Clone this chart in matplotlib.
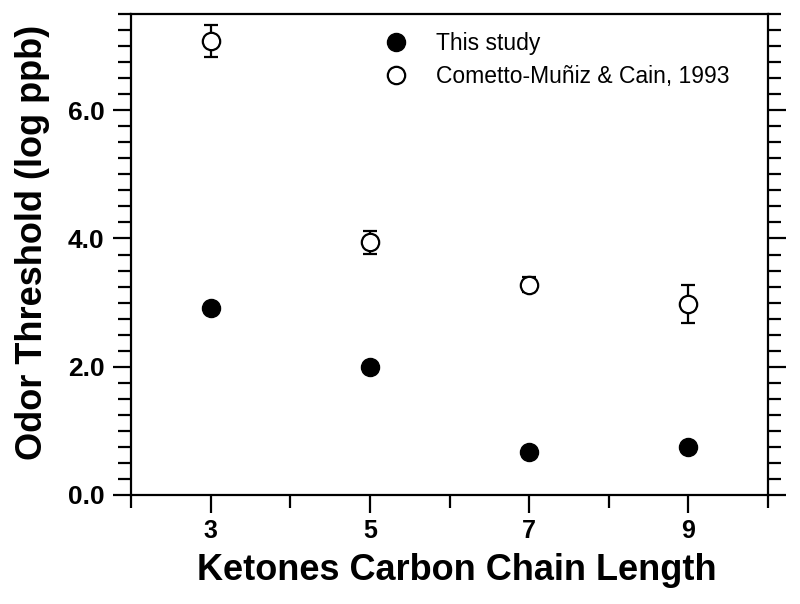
import matplotlib
matplotlib.use("Agg")
import matplotlib.pyplot as plt
from matplotlib.ticker import MultipleLocator, FixedLocator, FormatStrFormatter

plt.rcParams['font.family'] = ['Liberation Sans', 'DejaVu Sans']

chain = [3, 5, 7, 9]
this_study = [2.92, 2.00, 0.67, 0.75]
cometto = [7.08, 3.94, 3.28, 2.98]
cometto_err = [0.25, 0.18, 0.12, 0.30]
xtick_labels = ['3', '5', '7', '9']

W, H = 800, 604
fig = plt.figure(figsize=(W / 100, H / 100), dpi=100)
ax = fig.add_axes([131 / W, 1 - 495 / H, (768 - 131) / W, (495 - 14) / H])

ax.plot(chain, this_study, 'o', color='black', markersize=13, label='This study', zorder=3)
ax.errorbar(chain, cometto, yerr=cometto_err, fmt='none', ecolor='black',
            elinewidth=1.6, capsize=5, capthick=1.6, zorder=2)
ax.plot(chain, cometto, 'o', mfc='white', mec='black', markersize=12.5, mew=1.6,
        label='Cometto-Muñiz & Cain, 1993', zorder=3)

ax.set_xlim(2, 10)
ax.set_ylim(0, 7.5)
ax.xaxis.set_major_locator(FixedLocator(chain))
ax.set_xticklabels(xtick_labels)
ax.xaxis.set_minor_locator(FixedLocator([2, 4, 6, 8, 10]))
ax.yaxis.set_major_locator(MultipleLocator(2.0))
ax.yaxis.set_minor_locator(MultipleLocator(0.25))
ax.yaxis.set_major_formatter(FormatStrFormatter('%.1f'))

ax.tick_params(axis='both', which='major', direction='out', length=13, width=1.6)
ax.tick_params(axis='x', which='major', labelsize=18, pad=4)
ax.tick_params(axis='y', which='major', labelsize=19, pad=6)
ax.tick_params(axis='both', which='minor', direction='out', length=9.5, width=1.6)
ax.tick_params(axis='y', which='both', right=True)
ax.tick_params(axis='x', which='both', top=False)
for lbl in ax.get_xticklabels() + ax.get_yticklabels():
    lbl.set_fontweight('bold')
for s in ax.spines.values():
    s.set_linewidth(1.6)

fig.text(457 / W, 1 - 571 / H, 'Ketones Carbon Chain Length', fontsize=26, fontweight='bold',
         ha='center', va='center')
fig.text(33 / W, 1 - 242 / H, 'Odor Threshold (log ppb)', fontsize=26, fontweight='bold',
         ha='center', va='center', rotation=90)

leg = ax.legend(loc='upper left', bbox_to_anchor=(0.375, 0.982), frameon=False, fontsize=16.5,
                handletextpad=1.0, labelspacing=0.45, borderaxespad=0, handlelength=1.5)

fig.savefig('out.png', dpi=100)
